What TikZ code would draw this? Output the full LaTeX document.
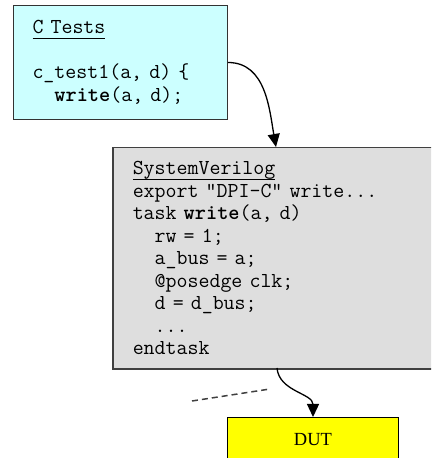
\documentclass[tikz,border=0pt]{standalone}
\usepackage{fontspec}
\setmainfont{Liberation Serif}
\usetikzlibrary{arrows.meta}

\definecolor{ctestcyan}{HTML}{CCFFFF}
\definecolor{svgray}{HTML}{DEDEDE}
\definecolor{dutyellow}{HTML}{FFFF00}
\definecolor{edgegray}{HTML}{404040}

\newcommand\codesize{\ttfamily\fontsize{21.3bp}{22.5bp}\selectfont\fontdimen2\font=0.525em\fontdimen3\font=0pt\fontdimen4\font=0pt\relax}
\newcommand\codeul[1]{\setbox0\hbox{#1}\rlap{\rule[-5bp]{\wd0}{1.2bp}}\box0}
\newcommand\codeindent{\phantom{xx}}

\begin{document}
\begin{tikzpicture}[x=1bp, y=1bp,
    code/.style = {font=\codesize, align=left, anchor=north west},
    flow/.style = {-{Triangle[width=12bp,length=13bp]}, line width=1.3bp}]
                \clip (0,0) rectangle (431,458);

                % C tests box (top left)
                \node[code, fill=ctestcyan, draw=black!80, line width=1bp, text width=176bp, inner xsep=19bp, minimum height=114bp] (ctests) at (13,453)
                    {\codeul{C Tests}\\[22.5bp] c\_test1(a, d) \{\\ \codeindent\textbf{write}(a, d);};

                % SystemVerilog box - runs off the right edge
                \node[code, fill=svgray, draw=edgegray, line width=1.5bp, text width=293bp, inner xsep=20bp, minimum height=221bp] (sv) at (112,311)
                    {\codeul{SystemVerilog}\\ export “DPI-C” write...\\ task \textbf{write}(a, d)\\ \codeindent rw = 1;\\ \codeindent a\_bus = a;\\ \codeindent @posedge clk;\\ \codeindent d = d\_bus;\\ \codeindent ...\\ endtask};

                % DUT box (bottom, cut off)
                \node[draw=black, line width=1bp, fill=dutyellow, minimum width=171bp, minimum height=44bp, anchor=north west, font=\fontsize{18.5bp}{21bp}\selectfont] (dut) at (227,41) {DUT};

                % Calls: C -> SV, SV -> DUT
                \coordinate (svin) at (276,311);
                \coordinate (svout) at (277,90);
                \draw[flow] (ctests.east) to[out=0,in=100] (svin);
                \draw[flow] (svout) to[out=-85,in=90] (dut.north);

                % dashed line left of the DUT arrow
                \draw[edgegray, line width=1.5bp, dash pattern=on 6bp off 4bp] (192,57) -- (270,69);
            \end{tikzpicture}
\end{document}
